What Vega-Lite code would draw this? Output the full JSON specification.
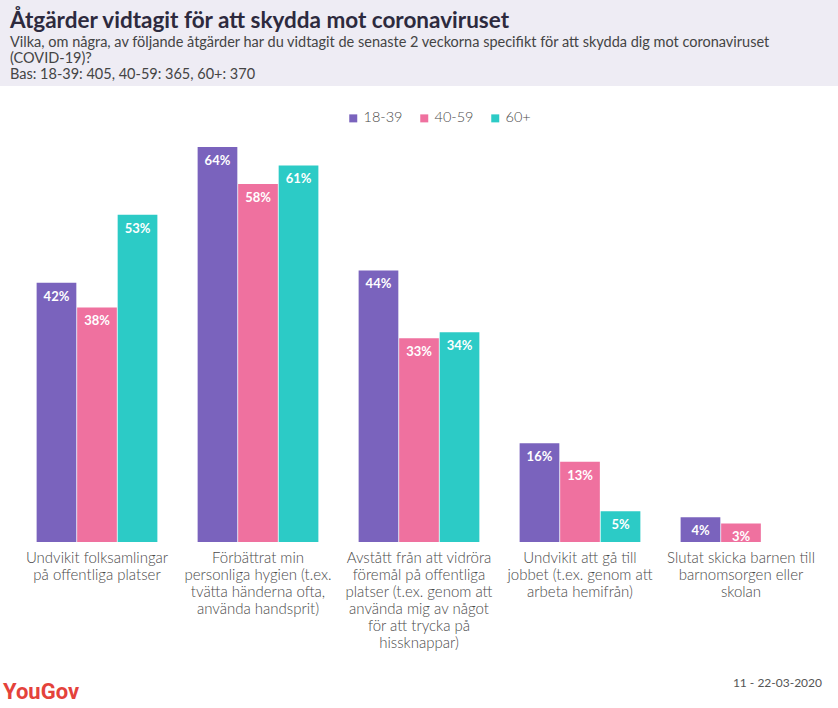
{
  "$schema": "https://vega.github.io/schema/vega-lite/v6.json",
  "padding": 0,
  "spacing": 0,
  "background": "white",
  "config": {
    "font": "Lato",
    "view": {"stroke": null},
    "concat": {"spacing": 0}
  },
  "title": {
    "text": "YouGov",
    "orient": "bottom",
    "anchor": "start",
    "frame": "group",
    "font": "Roboto",
    "fontSize": 22,
    "fontWeight": "bold",
    "color": "#e4423b",
    "dx": 3,
    "offset": -7
  },
  "datasets": {
    "results": [
      {"atgard": "Undvikit folksamlingar på offentliga platser", "alder": "18-39", "andel": 42},
      {"atgard": "Undvikit folksamlingar på offentliga platser", "alder": "40-59", "andel": 38},
      {"atgard": "Undvikit folksamlingar på offentliga platser", "alder": "60+", "andel": 53},
      {"atgard": "Förbättrat min personliga hygien (t.ex. tvätta händerna ofta, använda handsprit)", "alder": "18-39", "andel": 64},
      {"atgard": "Förbättrat min personliga hygien (t.ex. tvätta händerna ofta, använda handsprit)", "alder": "40-59", "andel": 58},
      {"atgard": "Förbättrat min personliga hygien (t.ex. tvätta händerna ofta, använda handsprit)", "alder": "60+", "andel": 61},
      {"atgard": "Avstått från att vidröra föremål på offentliga platser (t.ex. genom att använda mig av något för att trycka på hissknappar)", "alder": "18-39", "andel": 44},
      {"atgard": "Avstått från att vidröra föremål på offentliga platser (t.ex. genom att använda mig av något för att trycka på hissknappar)", "alder": "40-59", "andel": 33},
      {"atgard": "Avstått från att vidröra föremål på offentliga platser (t.ex. genom att använda mig av något för att trycka på hissknappar)", "alder": "60+", "andel": 34},
      {"atgard": "Undvikit att gå till jobbet (t.ex. genom att arbeta hemifrån)", "alder": "18-39", "andel": 16},
      {"atgard": "Undvikit att gå till jobbet (t.ex. genom att arbeta hemifrån)", "alder": "40-59", "andel": 13},
      {"atgard": "Undvikit att gå till jobbet (t.ex. genom att arbeta hemifrån)", "alder": "60+", "andel": 5},
      {"atgard": "Slutat skicka barnen till barnomsorgen eller skolan", "alder": "18-39", "andel": 4},
      {"atgard": "Slutat skicka barnen till barnomsorgen eller skolan", "alder": "40-59", "andel": 3}
    ]
  },
  "vconcat": [
    {
      "width": 838,
      "height": 86,
      "view": {"fill": "#eeecf4", "stroke": null},
      "title": {
        "text": "Åtgärder vidtagit för att skydda mot coronaviruset",
        "subtitle": [
          "Vilka, om några, av följande åtgärder har du vidtagit de senaste 2 veckorna specifikt för att skydda dig mot coronaviruset",
          "(COVID-19)?",
          "Bas: 18-39: 405, 40-59: 365, 60+: 370"
        ],
        "orient": "top",
        "anchor": "start",
        "frame": "group",
        "offset": -81,
        "dx": 10,
        "font": "Lato",
        "fontSize": 22.5,
        "fontWeight": "bold",
        "color": "#2d2a3e",
        "subtitleFont": "Lato",
        "subtitleFontSize": 14.5,
        "subtitleColor": "#444444",
        "subtitleLineHeight": 16,
        "subtitlePadding": 3
      },
      "data": {"values": []},
      "mark": "point",
      "encoding": {}
    },
    {
      "width": 838,
      "height": 456,
      "data": {"name": "results"},
      "title": {
        "text": "11 - 22-03-2020",
        "orient": "bottom",
        "anchor": "end",
        "frame": "group",
        "font": "Lato",
        "fontSize": 12,
        "fontWeight": "normal",
        "color": "#555555",
        "dx": -16,
        "offset": 28
      },
      "encoding": {
        "x": {
          "field": "atgard",
          "type": "nominal",
          "sort": null,
          "scale": {"paddingInner": 0.25, "paddingOuter": 0.2275},
          "axis": {
            "title": null,
            "domain": false,
            "ticks": false,
            "labelAngle": 0,
            "labelPadding": 8,
            "labelFont": "Lato",
            "labelFontSize": 15,
            "labelFontWeight": 300,
            "labelColor": "#4a4a4a",
            "labelLineHeight": 17,
            "labelLimit": 220,
            "labelBaseline": "top",
            "labelExpr": "datum.value == 'Undvikit folksamlingar på offentliga platser' ? ['Undvikit folksamlingar', 'på offentliga platser'] : datum.value == 'Förbättrat min personliga hygien (t.ex. tvätta händerna ofta, använda handsprit)' ? ['Förbättrat min', 'personliga hygien (t.ex.', 'tvätta händerna ofta,', 'använda handsprit)'] : datum.value == 'Avstått från att vidröra föremål på offentliga platser (t.ex. genom att använda mig av något för att trycka på hissknappar)' ? ['Avstått från att vidröra', 'föremål på offentliga', 'platser (t.ex. genom att', 'använda mig av något', 'för att trycka på', 'hissknappar)'] : datum.value == 'Undvikit att gå till jobbet (t.ex. genom att arbeta hemifrån)' ? ['Undvikit att gå till', 'jobbet (t.ex. genom att', 'arbeta hemifrån)'] : ['Slutat skicka barnen till', 'barnomsorgen eller', 'skolan']"
          }
        },
        "xOffset": {
          "field": "alder",
          "type": "nominal",
          "scale": {"domain": ["18-39", "40-59", "60+"], "paddingInner": 0.02}
        },
        "y": {
          "field": "andel",
          "type": "quantitative",
          "scale": {"domain": [0, 73.88], "nice": false, "zero": true},
          "axis": null
        }
      },
      "layer": [
        {
          "mark": {"type": "bar"},
          "encoding": {
            "color": {
              "field": "alder",
              "type": "nominal",
              "scale": {"domain": ["18-39", "40-59", "60+"], "range": ["#7a63bd", "#ef719f", "#2ccbc6"]},
              "legend": {
                "title": null,
                "orient": "none",
                "direction": "horizontal",
                "legendX": 346,
                "legendY": 111,
                "symbolType": "square",
                "symbolSize": 64,
                "symbolOpacity": 1,
                "symbolStrokeWidth": 0,
                "labelFont": "Lato",
                "labelFontSize": 14.5,
                "labelFontWeight": 300,
                "labelColor": "#4a4a4a",
                "labelOffset": 3,
                "columnPadding": 14,
                "symbolOffset": 0
              }
            }
          }
        },
        {
          "mark": {
            "type": "text",
            "baseline": "top",
            "dy": 8,
            "color": "white",
            "font": "Lato",
            "fontSize": 13,
            "fontWeight": "bold",
            "text": {"expr": "datum.andel + '%'"}
          },
          "encoding": {}
        }
      ]
    }
  ]
}
